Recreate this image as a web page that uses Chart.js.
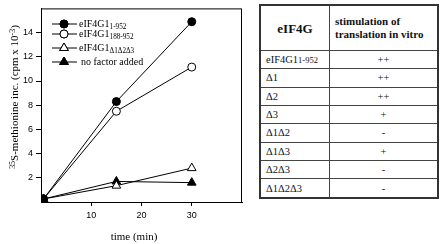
<!DOCTYPE html>
<html>
<head>
<meta charset="utf-8">
<script src="https://cdn.jsdelivr.net/npm/chart.js@4/dist/chart.umd.min.js"></script>
<style>
  html, body { margin: 0; padding: 0; background: #fff; }
  #wrap { position: relative; width: 440px; height: 244px; overflow: hidden; }
  #chart { position: absolute; left: 0; top: 0; }
  table {
    position: absolute; left: 259px; top: 4px; width: 180px; height: 195px;
    border-collapse: collapse; border: 2px solid #333;
    font-family: "Liberation Serif", "Times New Roman", serif; font-size: 10.5px; color: #111;
  }
  td, th { border: 1px solid #444; padding: 0 0 0 5px; }
  th { font-weight: bold; height: 44px; text-align: left; line-height: 13px; font-size: 11px; }
  th.c1 { text-align: center; font-size: 13px; padding: 0; }
  td.c2 { text-align: center; padding: 0; }
  .small { font-size: 8.5px; }
</style>
</head>
<body>
<div id="wrap">
  <canvas id="chart" width="250" height="244"></canvas>
  <table id="tbl"></table>
</div>
<script>
// time points (min)
const times = [0.5, 15, 30];
// 35S-methionine incorporation (cpm x 10-3)
const full = [0.25, 8.3, 14.9];
const trunc188 = [0.25, 7.5, 11.15];
const tripleDel = [0.25, 1.35, 2.8];
const noFactor = [0.25, 1.7, 1.6];

// table contents
const constructs = ['eIF4G1|1-952', 'Δ1', 'Δ2', 'Δ3', 'Δ1Δ2', 'Δ1Δ3', 'Δ2Δ3', 'Δ1Δ2Δ3'];
const stimulation = ['++', '++', '++', '+', '-', '+', '-', '-'];

const tbl = document.getElementById('tbl');
let html = '<tr><th class="c1" style="width:68px">eIF4G</th><th>stimulation of<br>translation in vitro</th></tr>';
constructs.forEach((c, i) => {
  const parts = c.split('|');
  const label = parts.length > 1 ? parts[0] + '<span class="small">' + parts[1] + '</span>' : c;
  html += '<tr><td>' + label + '</td><td class="c2">' + stimulation[i] + '</td></tr>';
});
tbl.innerHTML = html;

const pts = arr => arr.map((y, i) => ({ x: times[i], y }));

const series = [
  { label: ['eIF4G1', '1-952'], data: full, style: 'circle', fill: '#000', radius: 4 },
  { label: ['eIF4G1', '188-952'], data: trunc188, style: 'circle', fill: '#fff', radius: 4 },
  { label: ['eIF4G1', 'Δ1Δ2Δ3'], data: tripleDel, style: 'triangle', fill: '#fff', radius: 5 },
  { label: ['no factor added', ''], data: noFactor, style: 'triangle', fill: '#000', radius: 5 }
];

const serif = '"Liberation Serif", "Times New Roman", serif';

// draw text made of [text, shift] segments, shift: 0 normal, 1 sub, -1 sup
function richText(ctx, segs, x, y, size) {
  segs.forEach(([t, shift]) => {
    const s = shift ? size * 0.72 : size;
    ctx.font = s + 'px ' + serif;
    ctx.fillText(t, x, y + shift * size * 0.3);
    x += ctx.measureText(t).width;
  });
  return x;
}

const decor = {
  id: 'decor',
  afterDraw(chart) {
    const ctx = chart.ctx;
    const a = chart.chartArea;
    ctx.save();
    ctx.strokeStyle = '#000';
    ctx.lineWidth = 1;
    ctx.strokeRect(a.left + 0.5, a.top + 0.5, a.right - a.left - 1, a.bottom - a.top);

    // legend
    const rows = [24, 34, 48, 62];
    ctx.fillStyle = '#000';
    ctx.textBaseline = 'middle';
    series.forEach((s, i) => {
      const y = rows[i];
      ctx.beginPath();
      ctx.moveTo(52, y);
      ctx.lineTo(77, y);
      ctx.strokeStyle = '#000';
      ctx.lineWidth = 1;
      ctx.stroke();
      Chart.helpers.drawPoint(ctx, {
        pointStyle: s.style, radius: s.radius, rotation: 0,
        borderWidth: 1
      }, 64, y);
      ctx.fillStyle = s.fill;
      ctx.strokeStyle = '#000';
      ctx.fill();
      ctx.stroke();
      ctx.fillStyle = '#000';
      const x0 = i === 3 ? 81 : 79;
      richText(ctx, [[s.label[0], 0], [s.label[1], 1]], x0, y, 10);
    });

    // axis titles
    ctx.textBaseline = 'alphabetic';
    ctx.save();
    ctx.translate(18, 97);
    ctx.rotate(-Math.PI / 2);
    const segs = [['35', -1], ['S-methionine inc. (cpm x 10', 0], ['-3', -1], [')', 0]];
    let w = 0;
    segs.forEach(([t, sh]) => { ctx.font = (sh ? 7.9 : 11) + 'px ' + serif; w += ctx.measureText(t).width; });
    richText(ctx, segs, -w / 2, 0, 11);
    ctx.restore();

    ctx.font = '11px ' + serif;
    ctx.textAlign = 'center';
    ctx.fillText('time (min)', 134, 240);
    ctx.restore();
  }
};

new Chart(document.getElementById('chart'), {
  type: 'line',
  data: {
    datasets: series.map(s => ({
      data: pts(s.data),
      borderColor: '#000',
      borderWidth: 1,
      pointStyle: s.style,
      pointRadius: s.radius,
      pointBackgroundColor: s.fill,
      pointBorderColor: '#000',
      pointBorderWidth: 1,
      tension: 0
    }))
  },
  options: {
    responsive: false,
    animation: false,
    devicePixelRatio: 1,
    layout: { padding: { left: 0, right: 8, top: 2, bottom: 0 } },
    plugins: { legend: { display: false }, tooltip: { enabled: false } },
    scales: {
      x: {
        type: 'linear', min: 0, max: 40,
        afterFit: s => { s.height = 42; },
        afterBuildTicks: s => { s.ticks = [10, 20, 30].map(v => ({ value: v })); },
        grid: { drawOnChartArea: false, drawTicks: true, tickLength: 4, color: '#000' },
        border: { display: true, color: '#000' },
        ticks: { color: '#000', padding: 4, font: { family: '"Liberation Sans", Arial, sans-serif', size: 9 } }
      },
      y: {
        min: 0, max: 16,
        afterFit: s => { s.width = 41; },
        afterBuildTicks: s => { s.ticks = [2, 4, 6, 8, 10, 12, 14].map(v => ({ value: v })); },
        grid: { drawOnChartArea: false, drawTicks: true, tickLength: 5, color: '#000' },
        border: { display: true, color: '#000' },
        ticks: { color: '#000', padding: 3, font: { family: '"Liberation Sans", Arial, sans-serif', size: 9 } }
      }
    }
  },
  plugins: [decor]
});
</script>
</body>
</html>
